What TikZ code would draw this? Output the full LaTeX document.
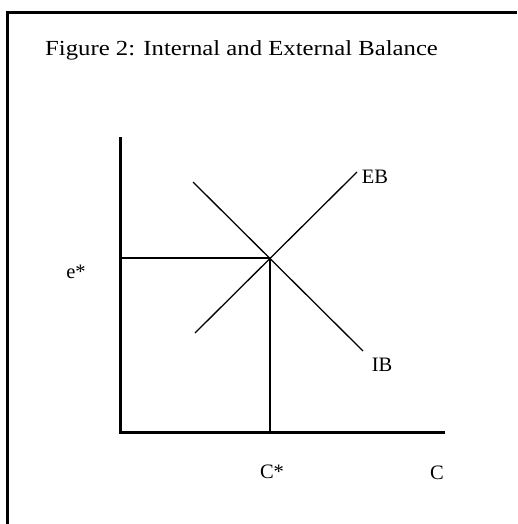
\documentclass[tikz,border=0pt]{standalone}
\usepackage{fontspec}
\setmainfont{Liberation Serif}
\newfontfamily\titlefont[FakeStretch=1.15]{Liberation Serif}
\begin{document}
\begin{tikzpicture}[x=1pt,y=-1pt,
  frameline/.style={line width=3pt},
  axisline/.style={line width=3pt},
  guideline/.style={line width=1.4pt},
  curveline/.style={line width=1.3pt},
  lbl/.style={inner sep=0pt, font=\fontsize{20.5}{22}\selectfont}]
\useasboundingbox (0,0) rectangle (517,524);
\fill[white] (0,0) rectangle (517,524);
% frame
\coordinate (fbl) at (7.5,524);
\coordinate (ftl) at (7.5,12.5);
\coordinate (ftr) at (517,12.5);
\draw[frameline] (fbl) -- (ftl) -- (ftr);
% title
\node[anchor=base west, inner sep=0pt, font=\titlefont\fontsize{21.5}{24}\selectfont] (title) at (45,56) {Figure 2: Internal and External Balance};
% axes
\coordinate (O) at (120,432);
\coordinate (ytop) at (120,137);
\coordinate (xend) at (445,432);
\draw[axisline] (ytop) -- (O) -- (xend);
% equilibrium
\coordinate (E) at (270,258);
\coordinate (ey) at (120,258);
\coordinate (cx) at (270,432);
\draw[guideline] (ey) -- (E) -- (cx);
% curves
\coordinate (IBa) at (193,182);
\coordinate (IBb) at (363,351);
\coordinate (EBa) at (195,333);
\coordinate (EBb) at (357,172);
\draw[curveline] (IBa) -- (IBb);
\draw[curveline] (EBa) -- (EBb);
% labels
\node[lbl] (EB) at (375,177) {EB};
\node[lbl] (IB) at (382,365) {IB};
\node[lbl] (Cstar) at (272,472) {C*};
\node[lbl] (C) at (437,473) {C};
\node[lbl] (estar) at (76,272) {e*};
\end{tikzpicture}
\end{document}
